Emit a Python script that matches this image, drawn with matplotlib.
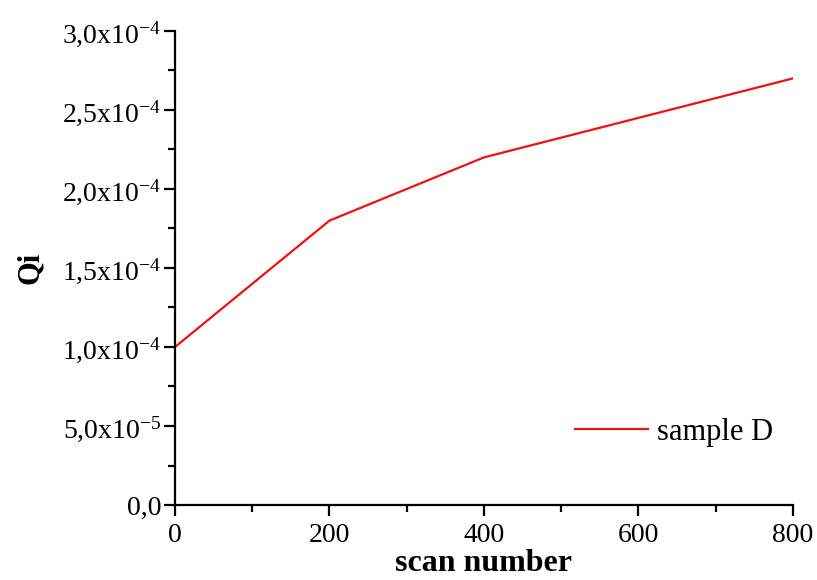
import matplotlib
matplotlib.use("Agg")
import matplotlib.pyplot as plt
from matplotlib.ticker import FixedLocator, MultipleLocator

# data
scan = [0, 200, 400, 800]
qi = [1.0e-4, 1.8e-4, 2.2e-4, 2.7e-4]

y_ticks = [0, 5e-5, 1e-4, 1.5e-4, 2e-4, 2.5e-4, 3e-4]
y_tick_labels = ["0,0", r"5,0x10$^{-5}$", r"1,0x10$^{-4}$", r"1,5x10$^{-4}$",
                 r"2,0x10$^{-4}$", r"2,5x10$^{-4}$", r"3,0x10$^{-4}$"]
x_ticks = [0, 200, 400, 600, 800]

plt.rcParams['font.family'] = ['Liberation Serif', 'DejaVu Serif']
plt.rcParams['mathtext.fontset'] = 'custom'
plt.rcParams['mathtext.rm'] = 'Liberation Serif'
plt.rcParams['mathtext.it'] = 'Liberation Serif:italic'
plt.rcParams['mathtext.bf'] = 'Liberation Serif:bold'

fig = plt.figure(figsize=(8.17, 5.8), dpi=100)
ax = fig.add_axes([0.2142, 0.1293, 0.9706 - 0.2142, 0.9466 - 0.1293])

ax.plot(scan, qi, color='#f01010', linewidth=1.6, label='sample D')

ax.set_xlim(0, 800)
ax.set_ylim(0, 3e-4)

ax.xaxis.set_major_locator(FixedLocator(x_ticks))
ax.xaxis.set_minor_locator(MultipleLocator(100))
ax.yaxis.set_major_locator(FixedLocator(y_ticks))
ax.yaxis.set_minor_locator(MultipleLocator(2.5e-5))
ax.set_yticklabels(y_tick_labels)

for s in ['top', 'right']:
    ax.spines[s].set_visible(False)
for s in ['left', 'bottom']:
    ax.spines[s].set_linewidth(1.6)

ax.tick_params(which='major', direction='out', length=8, width=1.6, labelsize=20)
ax.tick_params(axis='y', which='major', pad=2)
ax.tick_params(axis='x', which='major', pad=5)
ax.tick_params(which='minor', direction='out', length=5, width=1.6)

ax.set_xlabel('scan number', fontsize=23, fontweight='bold', labelpad=1)
ax.set_ylabel('Qi', fontsize=22, fontweight='bold', labelpad=12)

ax.legend(loc='center right', frameon=False, fontsize=22, handlelength=2.4,
          handletextpad=0.3, borderpad=0, borderaxespad=0,
          bbox_to_anchor=(0.968, 0.154))

fig.savefig('out.png', dpi=100)
